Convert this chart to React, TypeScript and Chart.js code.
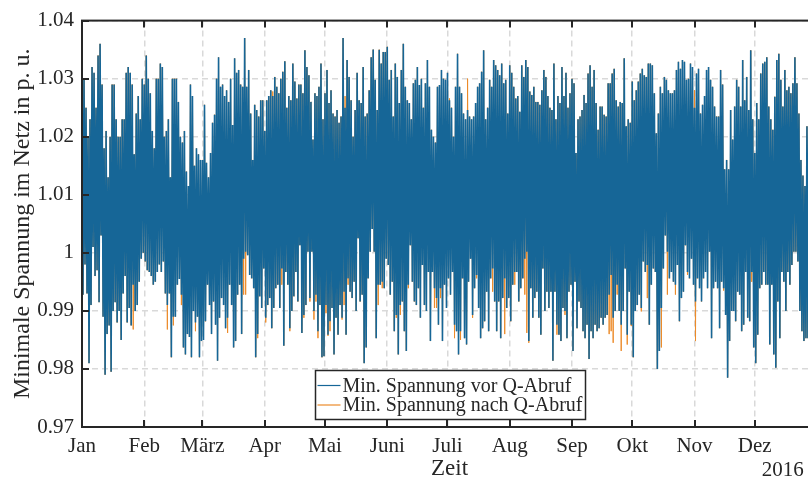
import React, { useEffect, useRef } from "react";
import { Chart, registerables } from "chart.js";

Chart.register(...registerables);

const monthLabels = ["Jan", "Feb", "März", "Apr", "Mai", "Juni", "Juli", "Aug", "Sep", "Okt", "Nov", "Dez"];
const monthStartDays = [0, 31, 60, 91, 121, 152, 182, 213, 244, 274, 305, 335];
const daysInYear = 366;
const yearLabel = "2016";
const xTitle = "Zeit";
const yTitle = "Minimale Spannung im Netz in p. u.";
const yTickValues = [0.97, 0.98, 0.99, 1.0, 1.01, 1.02, 1.03, 1.04];
const seriesNames = ["Min. Spannung vor Q-Abruf", "Min. Spannung nach Q-Abruf"];

// daily maximum / minimum of the minimal grid voltage (p.u.)
const vorMax = [
  1.033, 1.030, 1.025, 1.020, 1.023, 1.032, 1.031, 1.025, 1.034, 1.036,
  1.029, 1.018, 1.021, 1.013, 1.020, 1.029, 1.029, 1.023, 1.020, 1.020,
  1.023, 1.023, 1.031, 1.032, 1.031, 1.029, 1.017, 1.024, 1.027, 1.023,
  1.030, 1.029, 1.034, 1.030, 1.0275, 1.021, 1.018, 1.030, 1.030, 1.0326,
  1.032, 1.020, 1.021, 1.023, 1.013, 1.030, 1.030, 1.030, 1.026, 1.020,
  1.019, 1.021, 1.014, 1.0115, 1.029, 1.027, 1.015, 1.018, 1.017, 1.016,
  1.016,
  1.0255, 1.0155, 1.013, 1.0172, 1.0224, 1.0238, 1.030, 1.0337, 1.0286, 1.029,
  1.027, 1.028, 1.026, 1.030, 1.022, 1.0335, 1.031, 1.0315, 1.029, 1.0286,
  1.037, 1.0286, 1.0315, 1.024, 1.016, 1.0255, 1.0246, 1.0235, 1.0263, 1.0263,
  1.021, 1.0263, 1.027, 1.028, 1.027, 1.0303, 1.0286, 1.0275, 1.030, 1.0312,
  1.033, 1.025, 1.027, 1.0263, 1.0326, 1.0295, 1.0266, 1.029, 1.029, 1.0275,
  1.0349, 1.032, 1.0306, 1.026, 1.0195, 1.0275, 1.027, 1.0286, 1.0326, 1.023, 1.0275,
  1.0315, 1.0258, 1.028, 1.024, 1.0235, 1.0246, 1.0224, 1.0235, 1.037, 1.025,
  1.0332, 1.0303, 1.0263, 1.020, 1.0246, 1.031, 1.0263, 1.0258, 1.032, 1.0235,
  1.024, 1.028, 1.0337, 1.035, 1.0298, 1.0246, 1.035, 1.0326, 1.0346, 1.0346,
  1.0355, 1.0298, 1.0315, 1.0235, 1.0326, 1.0303, 1.0258, 1.0315, 1.036, 1.0286,
  1.0263, 1.0258, 1.023, 1.0292, 1.0298, 1.032, 1.0289, 1.030, 1.025, 1.0292,
  1.0332, 1.0286, 1.0212, 1.020, 1.019, 1.0286, 1.0289, 1.0315, 1.030, 1.0298, 1.031,
  1.0263, 1.025, 1.020, 1.0286, 1.0343, 1.0286, 1.0275, 1.024, 1.023, 1.0246,
  1.0235, 1.023, 1.0235, 1.0258, 1.0286, 1.0292, 1.0312, 1.0349, 1.023, 1.025,
  1.0298, 1.0286, 1.0332, 1.0323, 1.0315, 1.0306, 1.0326, 1.0292, 1.0298, 1.024,
  1.0323, 1.031, 1.0286, 1.0266, 1.027, 1.0243, 1.0323, 1.0303, 1.0332, 1.032,
  1.0278, 1.0272, 1.0286, 1.026, 1.026, 1.0255, 1.028, 1.0315, 1.0303, 1.027,
  1.025, 1.0246, 1.0326, 1.023, 1.027, 1.0258, 1.032, 1.027, 1.031, 1.025, 1.0275,
  1.030, 1.0292, 1.0172, 1.023, 1.0235, 1.0246, 1.0272, 1.0258, 1.0309, 1.0323,
  1.0286, 1.0315, 1.0258, 1.0212, 1.0252, 1.0252, 1.0238, 1.0235, 1.0292, 1.0292,
  1.0309, 1.0317, 1.0263, 1.0252, 1.026, 1.0258, 1.0335, 1.0218, 1.023, 1.0224,
  1.0295, 1.0263, 1.028, 1.0295, 1.0309, 1.0317, 1.0306, 1.0303, 1.0326, 1.0326,
  1.0323, 1.0275, 1.0206, 1.024, 1.0286, 1.0275, 1.0303, 1.0298, 1.028, 1.0275,
  1.0275, 1.028, 1.0315, 1.0329, 1.0317, 1.0332, 1.0329, 1.0298, 1.030, 1.0326,
  1.032, 1.025, 1.0309, 1.0317, 1.024, 1.0255, 1.027, 1.0315, 1.032, 1.0298,
  1.0286, 1.0252, 1.0235, 1.0235, 1.0315, 1.029, 1.0144, 1.016, 1.0144, 1.0246,
  1.0195, 1.0252, 1.0298, 1.0286, 1.0252, 1.0332, 1.0263, 1.0303, 1.0246, 1.0349,
  1.023, 1.0172, 1.0258, 1.023, 1.0309, 1.0326, 1.0329, 1.0337, 1.0252, 1.023,
  1.0212, 1.0269, 1.0332, 1.0343, 1.0298, 1.0252, 1.0315, 1.028, 1.0286, 1.0275,
  1.0292, 1.0337, 1.0292, 1.024, 1.016, 1.0133, 1.0115, 1.0218, 1.028, 1.020, 1.025, 1.018,
];

const vorMin = [
  0.9928, 0.998, 0.993, 0.981, 0.991, 1.001, 0.996, 0.997, 0.9915, 1.003,
  0.989, 0.979, 0.986, 0.9875, 0.9795, 0.990, 0.9915, 0.988, 0.990, 0.985,
  0.993, 0.996, 0.988, 0.9905, 0.9875, 0.9945, 0.990, 0.991, 0.995, 0.999,
  1.000, 0.9985, 0.997, 0.9967, 0.996, 0.9945, 0.995, 0.9967, 0.998, 0.9967,
  0.9985, 0.993, 0.991, 0.993, 0.982, 0.989, 0.989, 0.9945, 0.9955, 0.9928,
  0.9837, 0.9825, 0.986, 0.9855, 0.982, 0.990, 0.988, 0.989, 0.982, 0.9848,
  0.985,
  0.9882, 0.9945, 0.991, 0.986, 0.9916, 0.9876, 0.9814, 0.9888, 0.9922, 0.991,
  0.987, 0.9888, 0.9945, 0.991, 0.9837, 0.9848, 0.9928, 0.9945, 0.986, 0.999,
  1.0002, 0.9996, 0.9962, 0.9956, 0.9939, 0.982, 0.986, 0.9925, 0.9905, 0.9973,
  0.9888, 0.991, 0.9922, 0.987, 0.9905, 0.9939, 0.9945, 0.9905, 0.9973, 0.984,
  0.9967, 0.9945, 0.987, 0.990, 0.9925, 0.9967, 0.9916, 1.0013, 0.9862, 0.9893,
  0.991, 1.0002, 0.9922, 1.0002, 0.990, 0.9928, 0.9865, 0.991, 0.982, 0.9822, 0.991,
  0.9859, 0.9882, 0.9905, 0.9825, 0.9888, 0.9859, 0.991, 0.9888, 0.9933, 0.9859,
  0.9956, 0.9933, 0.9922, 0.995, 0.990, 1.0025, 0.9916, 0.9928, 0.981, 0.9837,
  0.9956, 1.0002, 1.0041, 1.0002, 0.9853, 0.9945, 0.9945, 0.995, 0.9939, 0.999,
  0.9979, 0.9928, 0.995, 0.9865, 0.9893, 0.9825, 0.991, 0.9916, 0.9865, 0.9831,
  0.9945, 1.0013, 0.995, 0.9916, 0.991, 0.9939, 0.9888, 0.9979, 0.991, 0.990,
  0.9967, 0.9848, 0.9967, 0.9939, 0.9922, 0.9876, 0.9939, 0.9848, 0.9945, 0.9905, 0.9956,
  0.9928, 0.9967, 0.9876, 0.9865, 0.9825, 0.9865, 0.9956, 0.9853, 0.9842, 0.995,
  0.999, 0.9893, 0.9939, 0.9962, 0.9905, 0.9853, 0.987, 0.9882, 0.9933, 0.9865,
  0.9956, 0.9973, 0.9916, 0.9865, 0.9916, 0.9853, 0.9922, 0.9956, 0.9905, 0.9922,
  0.9882, 0.9945, 0.9967, 0.9967, 0.9916, 0.9939, 0.9956, 0.999, 1.0002, 0.9848,
  0.9939, 0.9888, 0.9922, 0.9933, 0.9888, 0.9859, 0.9973, 0.990, 0.9933, 0.9905,
  0.9933, 0.9814, 0.9933, 0.9876, 0.9859, 0.9848, 0.9905, 0.990, 0.9853, 0.9933, 0.9945,
  0.9831, 0.995, 0.987, 0.9916, 0.9905, 0.9865, 0.9853, 0.9876, 0.9817, 0.9865,
  0.9853, 0.9876, 0.9865, 0.987, 0.9888, 0.9876, 0.9888, 0.9893, 0.9928, 0.9962,
  0.9888, 0.990, 0.9945, 0.990, 0.9876, 0.990, 0.9973, 0.9859, 0.9933, 0.9876,
  0.982, 0.990, 0.991, 0.9928, 0.9905, 0.9985, 0.9967, 0.9979, 0.9876, 0.9945,
  0.9973, 0.9967, 0.980, 0.9831, 0.9905, 0.9973, 1.003, 1.0002, 0.9956, 0.9967,
  0.995, 0.9945, 0.9979, 0.9882, 0.9922, 0.9933, 1.0013, 0.9967, 0.9956, 0.999,
  0.9945, 0.9916, 0.9956, 0.9939, 0.9916, 0.9956, 0.9967, 0.9939, 1.0002, 0.9853,
  0.9939, 0.995, 0.9939, 0.987, 0.995, 0.9939, 0.9893, 0.9785, 0.9848, 0.990,
  0.990, 0.9882, 0.9933, 0.9928, 0.9865, 0.9876, 0.9967, 0.9888, 0.9882, 0.9967,
  0.9837, 0.981, 0.9859, 0.9939, 0.9945, 0.9967, 0.9945, 0.9945, 0.9842, 0.9945,
  0.9825, 0.9802, 0.9916, 0.9853, 0.9967, 0.995, 0.990, 0.9967, 0.9945, 0.9979,
  1.0002, 1.0002, 0.9985, 0.990, 0.9865, 0.9848, 0.9853, 0.9853, 1.0025, 0.995, 0.990, 0.998,
];

const nachMax = [
  1.033, 1.030, 1.025, 1.020, 1.023, 1.032, 1.031, 1.025, 1.034, 1.036,
  1.029, 1.018, 1.021, 1.013, 1.020, 1.029, 1.029, 1.023, 1.020, 1.020,
  1.023, 1.023, 1.031, 1.032, 1.031, 1.029, 1.017, 1.024, 1.027, 1.023,
  1.030, 1.029, 1.034, 1.030, 1.0275, 1.021, 1.018, 1.030, 1.030, 1.0326,
  1.032, 1.020, 1.021, 1.023, 1.013, 1.030, 1.030, 1.030, 1.026, 1.020,
  1.019, 1.021, 1.014, 1.0115, 1.029, 1.027, 1.015, 1.018, 1.017, 1.016,
  1.016,
  1.0255, 1.0155, 1.013, 1.0172, 1.0224, 1.0238, 1.030, 1.0337, 1.0286, 1.029,
  1.027, 1.028, 1.026, 1.030, 1.022, 1.0335, 1.031, 1.0315, 1.029, 1.0286,
  1.037, 1.0286, 1.0315, 1.024, 1.016, 1.0255, 1.0246, 1.0235, 1.0263, 1.0263,
  1.021, 1.0263, 1.027, 1.028, 1.0278, 1.0303, 1.0286, 1.0275, 1.030, 1.0312,
  1.033, 1.025, 1.027, 1.0263, 1.0326, 1.0295, 1.0266, 1.029, 1.029, 1.0275,
  1.0349, 1.032, 1.0306, 1.026, 1.0195, 1.0275, 1.027, 1.0286, 1.0326, 1.023, 1.0275,
  1.0315, 1.0258, 1.028, 1.024, 1.0235, 1.0246, 1.0224, 1.0235, 1.037, 1.027,
  1.0332, 1.0303, 1.0263, 1.020, 1.0246, 1.031, 1.0263, 1.0258, 1.032, 1.0235,
  1.024, 1.028, 1.0337, 1.035, 1.0298, 1.0246, 1.035, 1.0326, 1.0346, 1.0346,
  1.0355, 1.0298, 1.0315, 1.0235, 1.0326, 1.0303, 1.0258, 1.0315, 1.036, 1.0286,
  1.0263, 1.0258, 1.023, 1.0292, 1.0298, 1.032, 1.0289, 1.030, 1.025, 1.0292,
  1.0332, 1.0286, 1.0212, 1.020, 1.019, 1.0286, 1.0289, 1.0315, 1.030, 1.0298, 1.031,
  1.0266, 1.025, 1.020, 1.0286, 1.0343, 1.0286, 1.0275, 1.024, 1.023, 1.030,
  1.0235, 1.023, 1.0235, 1.0258, 1.0286, 1.0292, 1.0312, 1.0349, 1.023, 1.025,
  1.0298, 1.0286, 1.0332, 1.0323, 1.0315, 1.0306, 1.0326, 1.0292, 1.0298, 1.024,
  1.0323, 1.031, 1.0286, 1.0266, 1.027, 1.0243, 1.0323, 1.0303, 1.0332, 1.032,
  1.0278, 1.0272, 1.0286, 1.026, 1.026, 1.0255, 1.028, 1.0315, 1.0303, 1.027,
  1.025, 1.0246, 1.0326, 1.023, 1.027, 1.0258, 1.032, 1.027, 1.031, 1.025, 1.0275,
  1.030, 1.0292, 1.0172, 1.023, 1.0235, 1.0246, 1.0272, 1.0258, 1.0309, 1.0323,
  1.0286, 1.0315, 1.0258, 1.0212, 1.0252, 1.0252, 1.0238, 1.0235, 1.0292, 1.0292,
  1.0309, 1.0317, 1.0263, 1.0252, 1.026, 1.0258, 1.0335, 1.0218, 1.023, 1.0224,
  1.0295, 1.0263, 1.028, 1.0295, 1.0309, 1.0317, 1.0306, 1.0303, 1.0326, 1.0326,
  1.0323, 1.0275, 1.0206, 1.024, 1.0286, 1.0275, 1.0303, 1.0298, 1.028, 1.0275,
  1.0275, 1.028, 1.0315, 1.0329, 1.0317, 1.0332, 1.0329, 1.0298, 1.030, 1.0326,
  1.032, 1.028, 1.0309, 1.0317, 1.024, 1.0255, 1.027, 1.0315, 1.032, 1.0298,
  1.0286, 1.0252, 1.0235, 1.0235, 1.0315, 1.029, 1.0144, 1.016, 1.0144, 1.0246,
  1.0195, 1.0252, 1.0298, 1.0286, 1.0252, 1.0332, 1.0263, 1.0303, 1.0246, 1.0349,
  1.023, 1.0172, 1.0258, 1.023, 1.0309, 1.0326, 1.0329, 1.0337, 1.0252, 1.023,
  1.0212, 1.0269, 1.0332, 1.0343, 1.0298, 1.0252, 1.0315, 1.028, 1.0286, 1.0275,
  1.0292, 1.0337, 1.0292, 1.024, 1.016, 1.0133, 1.0115, 1.0218, 1.028, 1.020, 1.025, 1.018,
];

const nachMin = [
  0.9928, 0.998, 0.993, 0.981, 0.991, 1.001, 0.996, 0.997, 0.9915, 1.003,
  0.989, 0.979, 0.986, 0.9875, 0.9795, 0.990, 0.9915, 0.988, 0.990, 0.985,
  0.993, 0.996, 0.988, 0.9905, 0.9875, 0.9868, 0.990, 0.991, 0.995, 0.999,
  1.000, 0.9985, 0.997, 0.9967, 0.996, 0.9945, 0.995, 0.9967, 0.998, 0.9967,
  0.9985, 0.993, 0.9868, 0.993, 0.982, 0.9875, 0.989, 0.9945, 0.9955, 0.991,
  0.9837, 0.9825, 0.986, 0.9855, 0.982, 0.990, 0.9865, 0.989, 0.982, 0.9848,
  0.985,
  0.9882, 0.9945, 0.991, 0.986, 0.9916, 0.9876, 0.9814, 0.9888, 0.9922, 0.991,
  0.987, 0.9862, 0.9945, 0.991, 0.9837, 0.9848, 0.9928, 0.9945, 0.986, 0.9928,
  0.9928, 0.9996, 0.9962, 0.9956, 0.9939, 0.982, 0.9853, 0.9925, 0.9905, 0.9973,
  0.988, 0.991, 0.9922, 0.987, 0.9905, 0.9939, 0.9945, 0.9905, 0.9945, 0.984,
  0.9967, 0.9945, 0.9865, 0.990, 0.9925, 0.9967, 0.9916, 1.0013, 0.9862, 0.9888,
  0.991, 1.0002, 0.9916, 1.0002, 0.9885, 0.9916, 0.9853, 0.991, 0.982, 0.9822, 0.9896,
  0.9857, 0.9865, 0.9905, 0.9825, 0.9888, 0.9859, 0.991, 0.9885, 0.991, 0.9859,
  0.9945, 0.9933, 0.9922, 0.995, 0.990, 1.0025, 0.9916, 0.9928, 0.981, 0.9837,
  0.9956, 1.0002, 1.0041, 1.0002, 0.9853, 0.991, 0.9945, 0.9939, 0.9939, 0.999,
  0.9979, 0.9928, 0.995, 0.9865, 0.9888, 0.9825, 0.9893, 0.9916, 0.9865, 0.9831,
  0.9939, 1.0013, 0.995, 0.9916, 0.991, 0.9939, 0.9888, 0.9979, 0.991, 0.990,
  0.9967, 0.9848, 0.9967, 0.9905, 0.9905, 0.9876, 0.9922, 0.9848, 0.9945, 0.9905, 0.9956,
  0.9928, 0.9967, 0.9853, 0.9865, 0.9825, 0.985, 0.9956, 0.9853, 0.9842, 0.995,
  0.999, 0.9888, 0.9939, 0.9956, 0.9905, 0.9853, 0.987, 0.9882, 0.9933, 0.9865,
  0.9956, 0.9933, 0.9916, 0.9865, 0.9916, 0.9853, 0.9922, 0.986, 0.9905, 0.9922,
  0.9882, 0.9945, 0.9945, 0.9967, 0.9916, 0.9939, 0.9956, 0.9928, 0.9862, 0.9845,
  0.9939, 0.9888, 0.9922, 0.9933, 0.9888, 0.9859, 0.9973, 0.990, 0.9933, 0.9905,
  0.9933, 0.9814, 0.9933, 0.9859, 0.9859, 0.9848, 0.9905, 0.9893, 0.9853, 0.9933, 0.9945,
  0.9831, 0.995, 0.987, 0.9916, 0.9905, 0.9865, 0.9853, 0.9876, 0.9817, 0.9865,
  0.9853, 0.9876, 0.9865, 0.987, 0.9888, 0.9876, 0.9888, 0.9893, 0.986, 0.9865,
  0.9845, 0.990, 0.9928, 0.990, 0.9831, 0.990, 0.9973, 0.9842, 0.9933, 0.9874,
  0.982, 0.990, 0.991, 0.9928, 0.9899, 0.9985, 0.9967, 0.9922, 0.9876, 0.9945,
  0.9973, 0.9967, 0.980, 0.9831, 0.9837, 0.9973, 1.003, 0.9928, 0.9956, 0.9967,
  0.995, 0.9928, 0.9979, 0.9882, 0.9922, 0.9933, 1.0013, 0.9962, 0.9956, 0.999,
  0.9945, 0.9848, 0.9956, 0.9939, 0.9916, 0.9956, 0.9967, 0.9939, 1.0002, 0.9853,
  0.9939, 0.995, 0.9939, 0.987, 0.995, 0.9935, 0.9893, 0.9785, 0.9848, 0.990,
  0.990, 0.9882, 0.9933, 0.9928, 0.9865, 0.9876, 0.9967, 0.9888, 0.9882, 0.995,
  0.9837, 0.981, 0.9859, 0.9939, 0.9945, 0.9967, 0.9945, 0.9945, 0.9842, 0.9945,
  0.9825, 0.9802, 0.9916, 0.9853, 0.9967, 0.995, 0.990, 0.9967, 0.9945, 0.9979,
  1.0002, 1.0002, 0.9985, 0.990, 0.9865, 0.9848, 0.9853, 0.9853, 1.0025, 0.995, 0.990, 0.998,
];

const BLUE = "#166697";
const ORANGE = "#EC8B2A";
const AXIS = "#262626";
const FONT = "'Liberation Serif', 'Times New Roman', serif";

// each day: daily max sample at the start of the day, daily min sample at noon
function toSeries(maxs: number[], mins: number[]) {
  const pts: { x: number; y: number }[] = [];
  for (let d = 0; d < maxs.length; d++) {
    pts.push({ x: d, y: maxs[d] });
    pts.push({ x: d + 0.5, y: mins[d] });
  }
  return pts;
}

const framePlugin = {
  id: "matlabFrame",
  afterDraw(chart: any) {
    const { ctx, chartArea, scales } = chart;
    const { left, right, top, bottom } = chartArea;
    const xs = scales.x;
    const ys = scales.y;
    ctx.save();
    ctx.strokeStyle = AXIS;
    ctx.lineWidth = 2;
    ctx.beginPath();
    const tl = 7;
    for (const v of monthStartDays) {
      const px = Math.round(xs.getPixelForValue(v));
      ctx.moveTo(px, bottom);
      ctx.lineTo(px, bottom - tl);
      ctx.moveTo(px, top);
      ctx.lineTo(px, top + tl);
    }
    for (const v of yTickValues) {
      const py = Math.round(ys.getPixelForValue(v));
      ctx.moveTo(left, py);
      ctx.lineTo(left + tl, py);
      ctx.moveTo(right, py);
      ctx.lineTo(right - tl, py);
    }
    ctx.stroke();
    ctx.strokeRect(left, top, right - left, bottom - top);

    // year label under the last month
    ctx.fillStyle = AXIS;
    ctx.font = `21px ${FONT}`;
    ctx.textAlign = "center";
    ctx.textBaseline = "middle";
    ctx.fillText(yearLabel, xs.getPixelForValue(monthStartDays[11]) + 28, bottom + 43);

    // legend box
    const cx = (left + right) / 2;
    const boxW = 270;
    const boxH = 49;
    const bx = Math.round(cx - boxW / 2) + 0.5;
    const by = bottom - 8 - boxH + 0.5;
    ctx.fillStyle = "#ffffff";
    ctx.fillRect(bx, by, boxW, boxH);
    ctx.lineWidth = 1.5;
    ctx.strokeStyle = AXIS;
    ctx.strokeRect(bx, by, boxW, boxH);
    const colors = [BLUE, ORANGE];
    ctx.textAlign = "left";
    ctx.font = `20px ${FONT}`;
    for (let i = 0; i < seriesNames.length; i++) {
      const ry = by + 15 + i * 19.5;
      ctx.strokeStyle = colors[i];
      ctx.lineWidth = 1.2;
      ctx.beginPath();
      ctx.moveTo(bx + 2, ry);
      ctx.lineTo(bx + 25, ry);
      ctx.stroke();
      ctx.fillStyle = AXIS;
      ctx.fillText(seriesNames[i], bx + 27, ry + 1);
    }
    ctx.restore();
  },
};

export default function App() {
  const ref = useRef<HTMLCanvasElement | null>(null);
  useEffect(() => {
    if (!ref.current) return;
    const chart = new Chart(ref.current, {
      type: "line",
      data: {
        datasets: [
          {
            label: seriesNames[0],
            data: toSeries(vorMax, vorMin),
            borderColor: BLUE,
            backgroundColor: BLUE,
            borderWidth: 1.6,
            pointRadius: 0,
            tension: 0,
          },
          {
            label: seriesNames[1],
            data: toSeries(nachMax, nachMin),
            borderColor: ORANGE,
            backgroundColor: ORANGE,
            borderWidth: 1.0,
            pointRadius: 0,
            tension: 0,
          },
        ],
      },
      options: {
        animation: false,
        responsive: false,
        parsing: false as any,
        layout: { padding: { top: 17, right: 13, left: 0, bottom: 0 } },
        plugins: { legend: { display: false }, tooltip: { enabled: false } },
        scales: {
          x: {
            type: "linear",
            min: 0,
            max: daysInYear,
            afterBuildTicks: (s: any) => {
              s.ticks = monthStartDays.map((v) => ({ value: v }));
            },
            afterFit: (s: any) => {
              s.height = 57;
            },
            ticks: {
              autoSkip: false,
              maxRotation: 0,
              padding: 7,
              color: AXIS,
              font: { family: FONT, size: 21 },
              callback: (v: any) => {
                const i = monthStartDays.indexOf(Number(v));
                return i >= 0 ? monthLabels[i] : "";
              },
            },
            grid: { color: "#d9d9d9", lineWidth: 1.5, drawTicks: false },
            border: { display: false, dash: [6, 4] },
            title: {
              display: true,
              text: xTitle,
              color: AXIS,
              font: { family: FONT, size: 23 },
              padding: { top: 0, bottom: 1 },
            },
          },
          y: {
            type: "linear",
            min: 0.97,
            max: 1.04,
            afterBuildTicks: (s: any) => {
              s.ticks = yTickValues.map((v) => ({ value: v }));
            },
            afterFit: (s: any) => {
              s.width = 82;
            },
            ticks: {
              padding: 8,
              color: AXIS,
              font: { family: FONT, size: 21 },
              callback: (v: any) => {
                const r = Math.round(Number(v) * 100) / 100;
                return r === 1 ? "1" : r.toFixed(2);
              },
            },
            grid: { color: "#d9d9d9", lineWidth: 1.5, drawTicks: false },
            border: { display: false, dash: [6, 4] },
            title: {
              display: true,
              text: yTitle,
              color: AXIS,
              font: { family: FONT, size: 24 },
              padding: { top: 8, bottom: 0 },
            },
          },
        },
      },
      plugins: [framePlugin],
    });
    return () => chart.destroy();
  }, []);

  return (
    <div
      style={{
        position: "fixed",
        left: 0,
        top: 0,
        width: 808,
        height: 484,
        overflow: "hidden",
        background: "#ffffff",
      }}
    >
      <canvas ref={ref} width={830} height={484} style={{ display: "block" }} />
    </div>
  );
}
